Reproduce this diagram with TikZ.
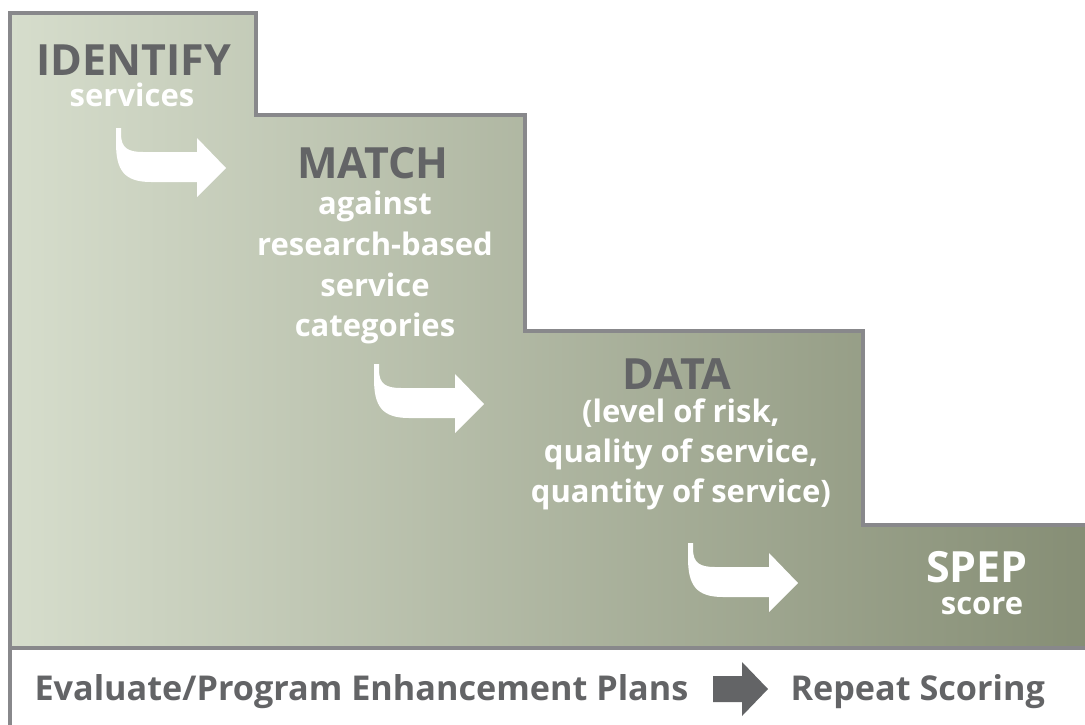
\documentclass[tikz,border=0pt]{standalone}
\usepackage{fontspec}
\setmainfont{Open Sans}
\definecolor{stepgray}{HTML}{636466}
\definecolor{framegray}{HTML}{88888B}
\definecolor{paleolive}{HTML}{D6DDCC}
\definecolor{darkolive}{HTML}{858D74}
\tikzset{
  headline/.style={anchor=base, text=stepgray, font=\bfseries\fontsize{43}{48}\selectfont},
  subline/.style={anchor=base, text=white, font=\bfseries\fontsize{31}{41}\selectfont},
  footline/.style={anchor=base west, text=stepgray, font=\bfseries\fontsize{34.2}{40}\selectfont},
}
\begin{document}
\begin{tikzpicture}[x=1pt,y=-1pt]
\def\stairs{(10,13) -- (256,13) -- (256,115) -- (525,115) -- (525,331) -- (863,331) -- (863,525) -- (1100,525) -- (1100,648) -- (10,648) -- cycle}
\def\footbar{(10,648) rectangle (1100,740)}
\def\bentarrow{(0,0) -- (5,0) -- (5,6) .. controls (5,20) and (12,24) .. (27,24) -- (81,24) -- (81,10) -- (110,40) -- (81,69) -- (81,54) -- (35,54) .. controls (8,54) and (0,42) .. (0,15) -- cycle}

\useasboundingbox (0,0) rectangle (1085,724);
\clip (0,0) rectangle (1085,724);

\shade[left color=paleolive, right color=darkolive] \stairs;
\draw[framegray, line width=4pt] \stairs;
\filldraw[fill=white, draw=framegray, line width=4pt] \footbar;

% white bent arrows between the steps
\foreach \dx/\dy in {116/128, 374/364, 688/543}
  \fill[white, shift={(\dx,\dy)}] \bentarrow;

\node[headline] (identify) at (134,75) {IDENTIFY};
\node[subline] (identifysub) at (132,106) {services};

\node[headline] (match) at (373,178) {MATCH};
\node[subline] (match1) at (375,214) {against};
\node[subline] (match2) at (375,255) {research-based};
\node[subline] (match3) at (375,296) {service};
\node[subline] (match4) at (375,336) {categories};

\node[headline] (data) at (677,389) {DATA};
\node[subline] (data1) at (681,422) {(level of risk,};
\node[subline] (data2) at (681,462) {quality of service,};
\node[subline] (data3) at (681,502) {quantity of service)};

\node[headline, text=white] (spep) at (977,582) {SPEP};
\node[subline] (spepsub) at (982,614) {score};

\node[footline] (evaluate) at (31,700) {Evaluate/Program Enhancement Plans};
\node[footline] (repeat) at (787,700) {Repeat Scoring};
\fill[stepgray] (713,676) -- (742,676) -- (742,662) -- (768,689) -- (742,716) -- (742,702) -- (713,702) -- cycle;
\end{tikzpicture}
\end{document}
